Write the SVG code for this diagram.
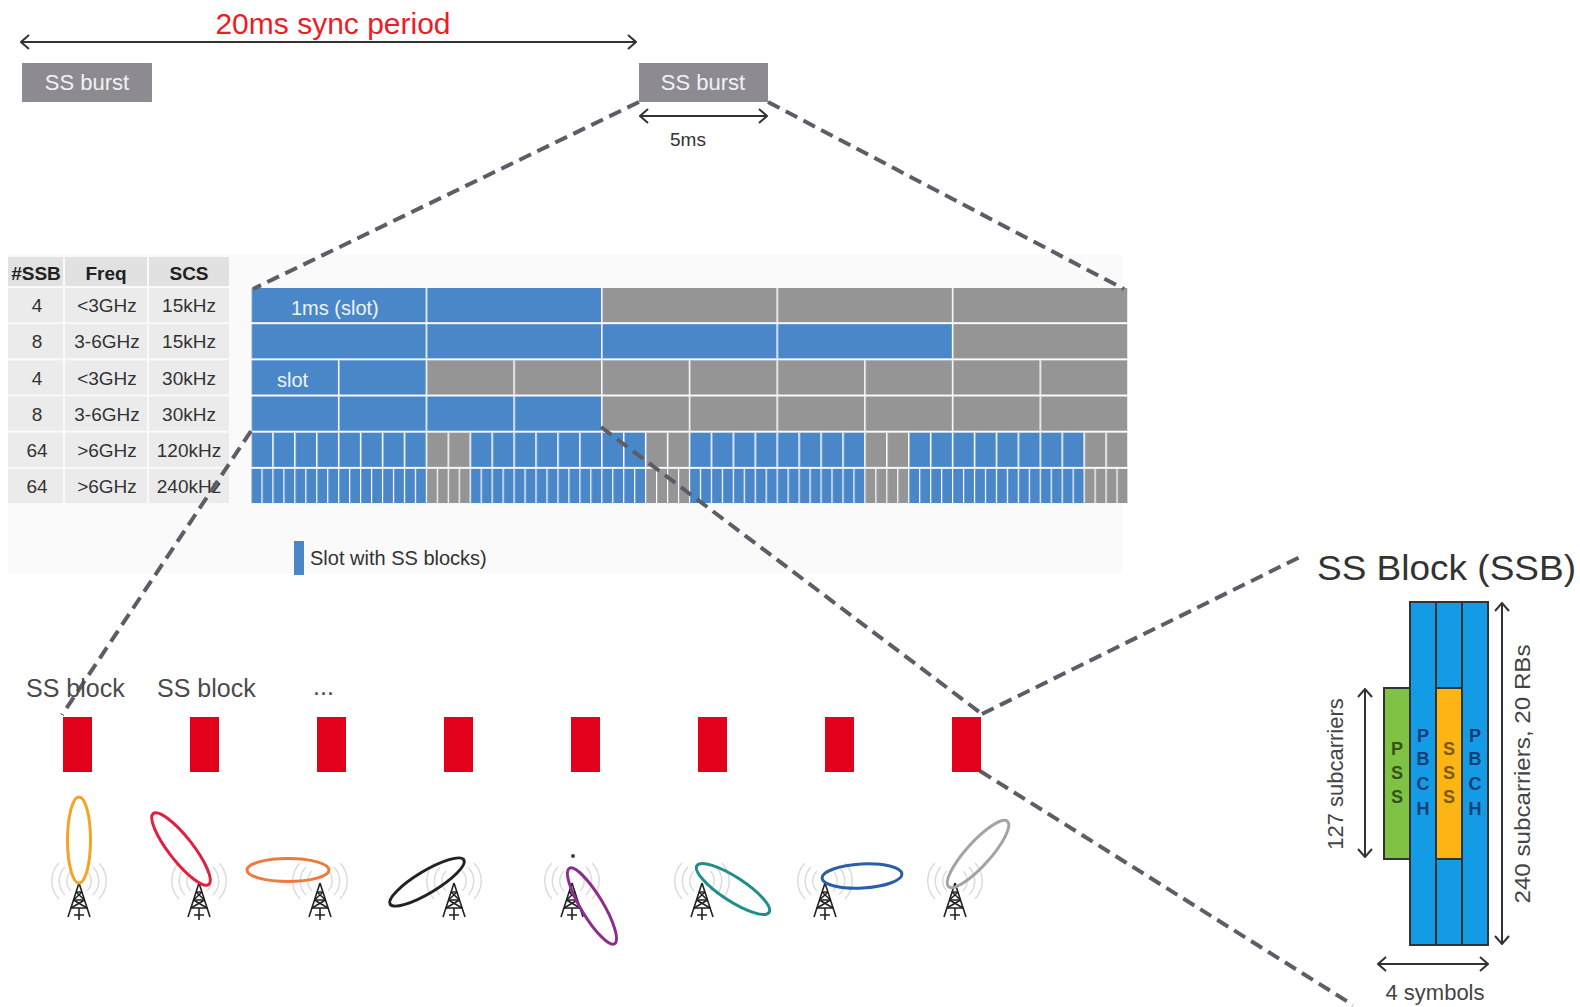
<svg xmlns="http://www.w3.org/2000/svg" width="1580" height="1007" viewBox="0 0 1580 1007">
  <defs>
    <style>
      text { font-family: "Liberation Sans", Arial, sans-serif; }
      .tbh { fill: #e1e1e1; }
      .tbc { fill: #ebebeb; }
      .tt { font-size: 19px; fill: #333; text-anchor: middle; }
      .th { font-size: 19px; fill: #222; text-anchor: middle; font-weight: bold; }
      .blue { fill: #4a87c9; }
      .gray { fill: #959595; }
      .dash { fill: none; stroke: #5e5c66; stroke-width: 4; stroke-dasharray: 13 7; }
      .arw { fill: none; stroke: #333; stroke-width: 2; marker-start: url(#chev); marker-end: url(#chev); }
      .burst { fill: #8d8b91; }
      .burst-t { font-size: 22px; fill: #f2f2f2; text-anchor: middle; }
      .red { fill: #e2001a; }
      .beam { fill: none; stroke-width: 3; }
      .blk { font-size: 25px; fill: #4a4a4a; }
      .col { stroke: #333; stroke-width: 2; }
      .ltr { font-size: 18px; text-anchor: middle; font-weight: bold; }
      .dim { font-size: 22px; fill: #444; text-anchor: middle; }
    </style>
    <marker id="chev" viewBox="0 0 10 16" refX="9" refY="8" markerWidth="10" markerHeight="16" markerUnits="userSpaceOnUse" orient="auto-start-reverse">
      <path d="M1,1 L9,8 L1,15" fill="none" stroke="#333" stroke-width="2"/>
    </marker>
    <!-- white slot dividers, one pattern per numerology -->
    <pattern id="p15" patternUnits="userSpaceOnUse" x="250.25" y="0" width="175.4" height="10">
      <rect width="1.5" height="10" fill="#fff"/>
    </pattern>
    <pattern id="p30" patternUnits="userSpaceOnUse" x="250.25" y="0" width="87.7" height="10">
      <rect width="1.5" height="10" fill="#fff"/>
    </pattern>
    <pattern id="p120" patternUnits="userSpaceOnUse" x="250.25" y="0" width="21.925" height="10">
      <rect width="1.5" height="10" fill="#fff"/>
    </pattern>
    <pattern id="p240" patternUnits="userSpaceOnUse" x="250.4" y="0" width="10.9625" height="10">
      <rect width="1.2" height="10" fill="#fff"/>
    </pattern>
    <!-- lattice tower with radio waves, apex at origin -->
    <symbol id="tower" overflow="visible">
      <g fill="none" stroke="#dadada" stroke-width="1.4">
        <path d="M-8,-12 A14 14 0 0 0 -8,8"/>
        <path d="M8,-12 A14 14 0 0 1 8,8"/>
        <path d="M-14,-16 A20 20 0 0 0 -14,12"/>
        <path d="M14,-16 A20 20 0 0 1 14,12"/>
        <path d="M-20,-20 A26 26 0 0 0 -20,16"/>
        <path d="M20,-20 A26 26 0 0 1 20,16"/>
      </g>
      <g fill="none" stroke="#222" stroke-width="1.6">
        <path d="M0,0 L-11,34 M0,0 L11,34"/>
        <path d="M-3,9 H3 M-5.5,17 H5.5 M-8,25 H8"/>
        <path d="M-3,9 L5.5,17 M3,9 L-5.5,17 M-5.5,17 L8,25 M5.5,17 L-8,25"/>
        <path d="M0,25 V37 M-5,32 H5"/>
      </g>
    </symbol>
  </defs>

  <rect width="1580" height="1007" fill="#fff"/>

  <!-- sync period -->
  <g id="sync-period">
    <text x="333" y="34" font-size="30" fill="#ee1c25" text-anchor="middle">20ms sync period</text>
    <line class="arw" x1="21" y1="42" x2="636" y2="42"/>
  </g>
  <g id="burst-1">
    <rect class="burst" x="22" y="63" width="130" height="39"/>
    <text class="burst-t" x="87" y="90">SS burst</text>
  </g>
  <g id="burst-2">
    <rect class="burst" x="639" y="63" width="129" height="39"/>
    <text class="burst-t" x="703" y="90">SS burst</text>
    <line class="arw" x1="640" y1="116" x2="767" y2="116"/>
    <text x="688" y="146" font-size="19" fill="#333" text-anchor="middle">5ms</text>
  </g>

  <!-- numerology panel -->
  <rect x="8" y="255" width="1114" height="318" fill="#fafafa"/>

  <g id="table">
    <rect class="tbh" x="8" y="257" width="55" height="29"/>
    <rect class="tbh" x="65" y="257" width="82" height="29"/>
    <rect class="tbh" x="149" y="257" width="80" height="29"/>
    <text class="th" x="36" y="280">#SSB</text>
    <text class="th" x="106" y="280">Freq</text>
    <text class="th" x="189" y="280">SCS</text>

    <g class="tbc">
      <rect x="8" y="288" width="55" height="34.2"/><rect x="65" y="288" width="82" height="34.2"/><rect x="149" y="288" width="80" height="34.2"/>
      <rect x="8" y="324.17" width="55" height="34.2"/><rect x="65" y="324.17" width="82" height="34.2"/><rect x="149" y="324.17" width="80" height="34.2"/>
      <rect x="8" y="360.34" width="55" height="34.2"/><rect x="65" y="360.34" width="82" height="34.2"/><rect x="149" y="360.34" width="80" height="34.2"/>
      <rect x="8" y="396.51" width="55" height="34.2"/><rect x="65" y="396.51" width="82" height="34.2"/><rect x="149" y="396.51" width="80" height="34.2"/>
      <rect x="8" y="432.68" width="55" height="34.2"/><rect x="65" y="432.68" width="82" height="34.2"/><rect x="149" y="432.68" width="80" height="34.2"/>
      <rect x="8" y="468.85" width="55" height="34.2"/><rect x="65" y="468.85" width="82" height="34.2"/><rect x="149" y="468.85" width="80" height="34.2"/>
    </g>

    <text class="tt" x="37" y="312">4</text><text class="tt" x="107" y="312">&lt;3GHz</text><text class="tt" x="189" y="312">15kHz</text>
    <text class="tt" x="37" y="348">8</text><text class="tt" x="107" y="348">3-6GHz</text><text class="tt" x="189" y="348">15kHz</text>
    <text class="tt" x="37" y="384.5">4</text><text class="tt" x="107" y="384.5">&lt;3GHz</text><text class="tt" x="189" y="384.5">30kHz</text>
    <text class="tt" x="37" y="420.5">8</text><text class="tt" x="107" y="420.5">3-6GHz</text><text class="tt" x="189" y="420.5">30kHz</text>
    <text class="tt" x="37" y="457">64</text><text class="tt" x="107" y="457">&gt;6GHz</text><text class="tt" x="189" y="457">120kHz</text>
    <text class="tt" x="37" y="493">64</text><text class="tt" x="107" y="493">&gt;6GHz</text><text class="tt" x="189" y="493">240kHz</text>
  </g>

  <g id="slot-grid">
    <!-- 15 kHz, 4 SSB -->
    <rect class="blue" x="251" y="288" width="350.8" height="34.2"/>
    <rect class="gray" x="601.8" y="288" width="526.2" height="34.2"/>
    <!-- 15 kHz, 8 SSB -->
    <rect class="blue" x="251" y="324.17" width="701.6" height="34.2"/>
    <rect class="gray" x="952.6" y="324.17" width="175.4" height="34.2"/>
    <!-- 30 kHz, 4 SSB -->
    <rect class="blue" x="251" y="360.34" width="175.4" height="34.2"/>
    <rect class="gray" x="426.4" y="360.34" width="701.6" height="34.2"/>
    <!-- 30 kHz, 8 SSB -->
    <rect class="blue" x="251" y="396.51" width="350.8" height="34.2"/>
    <rect class="gray" x="601.8" y="396.51" width="526.2" height="34.2"/>
    <!-- 120 kHz and 240 kHz, 64 SSB -->
    <g>
      <rect class="blue" x="251" y="432.68" width="175.4" height="34.2"/>
      <rect class="gray" x="426.4" y="432.68" width="43.85" height="34.2"/>
      <rect class="blue" x="470.25" y="432.68" width="175.4" height="34.2"/>
      <rect class="gray" x="645.65" y="432.68" width="43.85" height="34.2"/>
      <rect class="blue" x="689.5" y="432.68" width="175.4" height="34.2"/>
      <rect class="gray" x="864.9" y="432.68" width="43.85" height="34.2"/>
      <rect class="blue" x="908.75" y="432.68" width="175.4" height="34.2"/>
      <rect class="gray" x="1084.15" y="432.68" width="43.85" height="34.2"/>
    </g>
    <g>
      <rect class="blue" x="251" y="468.85" width="175.4" height="34.2"/>
      <rect class="gray" x="426.4" y="468.85" width="43.85" height="34.2"/>
      <rect class="blue" x="470.25" y="468.85" width="175.4" height="34.2"/>
      <rect class="gray" x="645.65" y="468.85" width="43.85" height="34.2"/>
      <rect class="blue" x="689.5" y="468.85" width="175.4" height="34.2"/>
      <rect class="gray" x="864.9" y="468.85" width="43.85" height="34.2"/>
      <rect class="blue" x="908.75" y="468.85" width="175.4" height="34.2"/>
      <rect class="gray" x="1084.15" y="468.85" width="43.85" height="34.2"/>
    </g>
    <!-- slot boundaries -->
    <rect x="251" y="288" width="877" height="70.4" fill="url(#p15)"/>
    <rect x="251" y="360.34" width="877" height="70.4" fill="url(#p30)"/>
    <rect x="251" y="432.68" width="877" height="34.2" fill="url(#p120)"/>
    <rect x="251" y="468.85" width="877" height="34.2" fill="url(#p240)"/>

    <text x="291" y="315" font-size="20" fill="#eef4fb">1ms (slot)</text>
    <text x="277" y="387" font-size="20" fill="#eef4fb">slot</text>
  </g>

  <g id="legend">
    <rect class="blue" x="294" y="541" width="10" height="34"/>
    <text x="310" y="565" font-size="20" fill="#333">Slot with SS blocks)</text>
  </g>

  <!-- zoom-in connectors -->
  <g id="connectors">
    <path class="dash" d="M639,102 L253,289"/>
    <path class="dash" d="M768,102 L1124,289"/>
    <path class="dash" d="M251,431 L62,715"/>
    <path class="dash" d="M601,427 L982,714"/>
    <path class="dash" d="M982,714 L1302,556"/>
    <path class="dash" d="M980,771 L1353,1005"/>
  </g>

  <!-- beam sweep: one SS block per beam -->
  <g id="ss-block-labels">
    <text class="blk" x="26" y="697">SS block</text>
    <text class="blk" x="157" y="697">SS block</text>
    <text class="blk" x="313" y="695">...</text>
  </g>
  <g id="ssb-1"><rect class="red" x="63" y="717" width="29" height="55"/>
    <use href="#tower" x="79" y="883"/>
    <ellipse class="beam" stroke="#f4a424" cx="79" cy="840" rx="11.5" ry="43"/></g>
  <g id="ssb-2"><rect class="red" x="190" y="717" width="29" height="55"/>
    <use href="#tower" x="199" y="883"/>
    <ellipse class="beam" stroke="#e0203c" cx="181" cy="849" rx="12" ry="45" transform="rotate(-38 181 849)"/></g>
  <g id="ssb-3"><rect class="red" x="317" y="717" width="29" height="55"/>
    <use href="#tower" x="320" y="883"/>
    <ellipse class="beam" stroke="#ef7a3a" cx="288" cy="870" rx="41" ry="11.5"/></g>
  <g id="ssb-4"><rect class="red" x="444" y="717" width="29" height="55"/>
    <use href="#tower" x="454" y="883"/>
    <ellipse class="beam" stroke="#222" cx="427" cy="882" rx="43" ry="11" transform="rotate(-31 427 882)"/></g>
  <g id="ssb-5"><rect class="red" x="571" y="717" width="29" height="55"/>
    <use href="#tower" x="572" y="883"/>
    <circle cx="573" cy="856" r="2" fill="#444"/>
    <ellipse class="beam" stroke="#8e2c8e" cx="592" cy="906" rx="11" ry="44" transform="rotate(-31 592 906)"/></g>
  <g id="ssb-6"><rect class="red" x="698" y="717" width="29" height="55"/>
    <use href="#tower" x="702" y="883"/>
    <ellipse class="beam" stroke="#218c8c" cx="733" cy="889" rx="43" ry="12" transform="rotate(33 733 889)"/></g>
  <g id="ssb-7"><rect class="red" x="825" y="717" width="29" height="55"/>
    <use href="#tower" x="825" y="883"/>
    <ellipse class="beam" stroke="#2a5ea8" cx="862" cy="876" rx="40" ry="12" transform="rotate(-3 862 876)"/></g>
  <g id="ssb-8"><rect class="red" x="952" y="717" width="29" height="55"/>
    <use href="#tower" x="955" y="883"/>
    <ellipse class="beam" stroke="#a3a3a3" cx="978" cy="854" rx="12" ry="44" transform="rotate(42 978 854)"/></g>

  <!-- SS block structure -->
  <g id="ssb-structure">
    <text x="1317" y="580" font-size="35" fill="#333" textLength="259" lengthAdjust="spacingAndGlyphs">SS Block (SSB)</text>
    <rect class="col" x="1384" y="688" width="26" height="171" fill="#80c243"/>
    <rect class="col" x="1410" y="602" width="26" height="343" fill="#149be6"/>
    <rect class="col" x="1436" y="602" width="26" height="343" fill="#149be6"/>
    <rect class="col" x="1436" y="688" width="26" height="171" fill="#fdb515"/>
    <rect class="col" x="1462" y="602" width="26" height="343" fill="#149be6"/>

    <g class="ltr" fill="#35521d">
      <text x="1397" y="755">P</text><text x="1397" y="779">S</text><text x="1397" y="803">S</text>
    </g>
    <g class="ltr" fill="#173d78">
      <text x="1423" y="742">P</text><text x="1423" y="765">B</text><text x="1423" y="790">C</text><text x="1423" y="815">H</text>
      <text x="1475" y="742">P</text><text x="1475" y="765">B</text><text x="1475" y="790">C</text><text x="1475" y="815">H</text>
    </g>
    <g class="ltr" fill="#7a5a10">
      <text x="1449" y="755">S</text><text x="1449" y="779">S</text><text x="1449" y="803">S</text>
    </g>

    <line class="arw" x1="1365" y1="689" x2="1365" y2="857"/>
    <text class="dim" transform="translate(1343 774) rotate(-90)">127 subcarriers</text>
    <line class="arw" x1="1502" y1="603" x2="1502" y2="944"/>
    <text class="dim" transform="translate(1530 774) rotate(-90)" textLength="259" lengthAdjust="spacingAndGlyphs">240 subcarriers, 20 RBs</text>
    <line class="arw" x1="1378" y1="964" x2="1488" y2="964"/>
    <text class="dim" x="1435" y="1000">4 symbols</text>
  </g>
</svg>
